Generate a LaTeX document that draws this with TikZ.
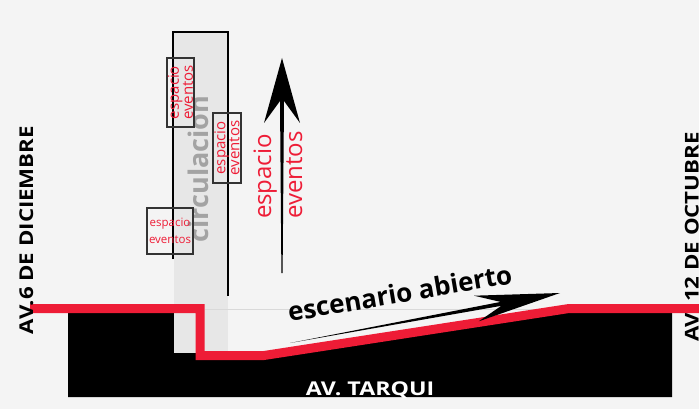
\documentclass[tikz,border=0pt]{standalone}
\usepackage{fontspec}
\setmainfont{Open Sans}
\usetikzlibrary{positioning, calc}

\definecolor{redline}{HTML}{EE1C36}
\definecolor{bggray}{HTML}{F4F4F4}
\definecolor{colgray}{HTML}{E7E7E7}
\definecolor{circgray}{HTML}{A3A3A3}

\begin{document}
\begin{tikzpicture}[x=1pt, y=-1pt,
    evbox/.style={draw=black!80, line width=1.3pt, inner sep=0pt, align=center, text=redline, font=\fontsize{15}{14}\selectfont},
    evlabel/.style={text=redline, rotate=90, anchor=base, inner sep=0pt, font=\fontsize{24}{26}\selectfont},
    avlabel/.style={rotate=90, anchor=base, inner sep=0pt, font=\bfseries\fontsize{19}{21}\selectfont\addfontfeature{FakeStretch=1.17}},
    wall/.style={draw=black, line width=2.5pt},
    arrowshape/.style={fill=black}
]

% --- Background ---
\fill[bggray] (0,0) rectangle (699,409);
\useasboundingbox (0,0) rectangle (699,409);

% --- Ground (Av. Tarqui) ---
\fill (68,308) -- (200,308) -- (200,355) -- (264,355) -- (569,308) -- (672,308) -- (672,397) -- (68,397) -- cycle;
\node (tarqui) [anchor=base, text=white, inner sep=0pt, font=\bfseries\fontsize{19}{21}\selectfont\addfontfeature{FakeStretch=1.22}] at (370,395) {AV. TARQUI};

% --- Circulation column ---
\fill[colgray] (174,32) rectangle (228,353);
\draw[black!15, line width=0.6pt] (205,309) -- (569,309);
\draw[wall] (173,259) -- (173,32) -- (228,32) -- (228,296);
\node (circ) [rotate=90, anchor=base, inner sep=0pt, text=circgray, font=\bfseries\fontsize{27}{29}\selectfont] at (208,169) {circulacion};

% --- Right street label (under the red line) ---
\node (octubre) [avlabel] at (698.5,237) {AV. 12 DE OCTUBRE};

% --- Red section line ---
\draw[redline, line width=9pt] (30,308.5) -- (200,308.5) -- (200,355.5) -- (264,355.5) -- (569,308.5) -- (699,308.5);

% --- Left street label ---
\node (diciembre) [avlabel] at (33,230) {AV.6 DE DICIEMBRE};

% --- Event boxes ---
\node (ev_a) [evbox, rotate=90, minimum width=69pt, minimum height=27pt] at (180.5,92.5) {espacio\\eventos};
\node (ev_b) [evbox, rotate=90, minimum width=70pt, minimum height=28pt] at (227,148) {espacio\\eventos};
\node (ev_c) [evbox, minimum width=46pt, minimum height=46pt, font=\fontsize{11.5}{17}\selectfont] at (170,231) {espacio\\eventos};

% --- Vertical arrow: espacio eventos ---
\coordinate (up_tip) at (282,58);
\coordinate (up_tail) at (282,273);
\fill[arrowshape] (up_tip) -- (300,123) -- (284,101) -- ($(up_tail)+(0.6,0)$) -- ($(up_tail)+(-0.6,0)$) -- (280,101) -- (264,123) -- cycle;
\node (esp) [evlabel] at (271,176.5) {espacio};
\node (evt) [evlabel] at (302,175) {eventos};

% --- Slanted arrow: escenario abierto ---
\coordinate (sc_tip) at (560,293);
\coordinate (sc_tail) at (290,343);
\fill[arrowshape] (sc_tip) -- (474,295.7) -- (500.6,301.9) -- (sc_tail) -- (501.4,305.8) -- (478.8,321.3) -- cycle;
\node (escenario) [rotate=9.7, anchor=base, inner sep=0pt, font=\bfseries\fontsize{26}{28}\selectfont] at (401.5,302.5) {escenario abierto};

\end{tikzpicture}
\end{document}
